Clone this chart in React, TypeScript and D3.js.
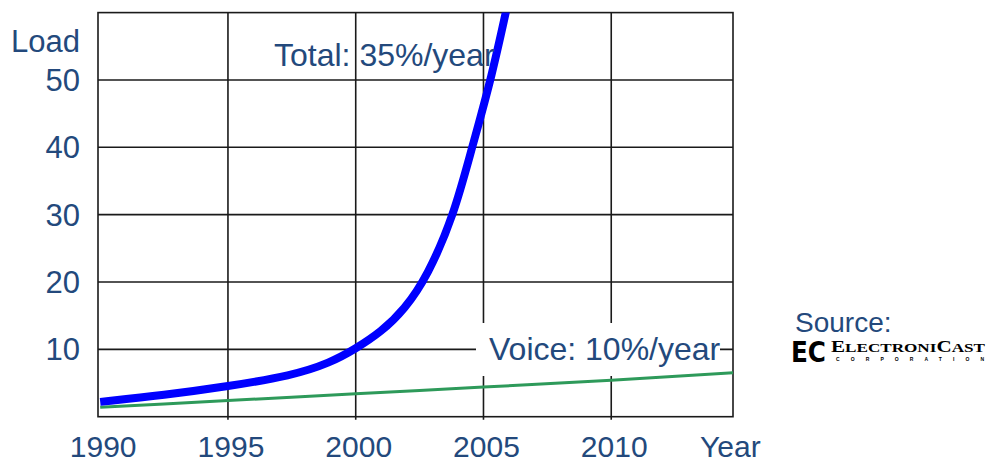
import React from 'react';
import * as d3 from 'd3';

const xTickYears = [1990, 1995, 2000, 2005, 2010];
const xGridYears = [1995, 2000, 2005, 2010];
const yTickValues = [10, 20, 30, 40, 50];
const totalYears = [1990, 1992.5, 1995, 1997.5, 1999, 2000, 2001, 2001.9, 2002.8, 2003.85, 2004.55, 2005.3, 2006.1];
const totalLoad = [2.2, 3.2, 4.5, 6.1, 8.0, 10.1, 12.6, 15.9, 20.8, 30, 40, 50, 64];
const voiceYears = [1990, 1995, 2000, 2005, 2010, 2015];
const voiceLoad = [1.4, 2.4, 3.4, 4.4, 5.4, 6.6];

const TEXT = '#23497c';
const FONT = '"Liberation Sans", Arial, sans-serif';

export default function App() {
  const x = d3.scaleLinear().domain([1990, 2015]).range([100.2, 739]);
  const y = d3.scaleLinear().domain([0, 60]).range([416.7, 12.6]);
  const left = 98, right = 733, top = y(60), bottom = y(0);

  const totalPath = d3.line<[number, number]>().x(d => x(d[0])).y(d => y(d[1])).curve(d3.curveBasis)(
    totalYears.map((yr, i) => [yr, totalLoad[i]]) as [number, number][]);
  const voicePath = d3.line<[number, number]>().x(d => x(d[0])).y(d => y(d[1])).curve(d3.curveMonotoneX)(
    voiceYears.map((yr, i) => [yr, voiceLoad[i]]) as [number, number][]);

  return (
    <svg width={986} height={463} style={{ position: 'absolute', left: 0, top: 0, background: '#fff' }} fontFamily={FONT}>
      <defs>
        <clipPath id="plot">
          <rect x={left} y={top} width={right - left} height={bottom - top} />
        </clipPath>
      </defs>
      <rect x={0} y={0} width={986} height={463} fill="#fff" />
      {yTickValues.map(v => (
        <line key={'h' + v} x1={left} x2={right} y1={y(v)} y2={y(v)} stroke="#1a1a1a" strokeWidth={1.6} />
      ))}
      {xGridYears.map(v => (
        <line key={'v' + v} x1={x(v)} x2={x(v)} y1={top} y2={bottom + 3} stroke="#1a1a1a" strokeWidth={1.6} />
      ))}
      <rect x={left} y={top} width={right - left} height={bottom - top} fill="none" stroke="#1a1a1a" strokeWidth={1.6} />
      <rect x={476} y={323} width={244} height={53} fill="#fff" />
      <g clipPath="url(#plot)">
        <path d={voicePath || ''} fill="none" stroke="#2e9a5a" strokeWidth={3} />
        <path d={totalPath || ''} fill="none" stroke="#0000ff" strokeWidth={8} />
      </g>
      {yTickValues.map(v => (
        <text key={'yl' + v} x={80} y={y(v) + 11} textAnchor="end" fontSize={31} fill={TEXT}>{v}</text>
      ))}
      <text x={80} y={52} textAnchor="end" fontSize={31} fill={TEXT}>Load</text>
      {xTickYears.map(v => (
        <text key={'xl' + v} x={x(v) + 3} y={457} textAnchor="middle" fontSize={30} fill={TEXT}>{v}</text>
      ))}
      <text x={700} y={457} fontSize={30} fill={TEXT}>Year</text>
      <text x={274} y={66} fontSize={32} fill={TEXT}>Total: 35%/year</text>
      <text x={489} y={360} fontSize={32} fill={TEXT}>Voice: 10%/year</text>
      <text x={795} y={332} fontSize={28} fill={TEXT}>Source:</text>
      <g>
        <text x={791} y={362} fontSize={28} fontWeight="bold" fill="#000" textLength={35} lengthAdjust="spacingAndGlyphs" fontFamily='"DejaVu Sans", sans-serif'>EC</text>
        <text x={831} y={352} fill="#000" fontWeight="bold" fontFamily='"Liberation Serif", serif' textLength={154} lengthAdjust="spacingAndGlyphs">
          <tspan fontSize={16}>E</tspan><tspan fontSize={13}>LECTRONI</tspan><tspan fontSize={16}>C</tspan><tspan fontSize={13}>AST</tspan>
        </text>
        <text x={836} y={361} fill="#000" fontSize={5} fontWeight="bold" textLength={148} lengthAdjust="spacing">CORPORATION</text>
      </g>
    </svg>
  );
}
